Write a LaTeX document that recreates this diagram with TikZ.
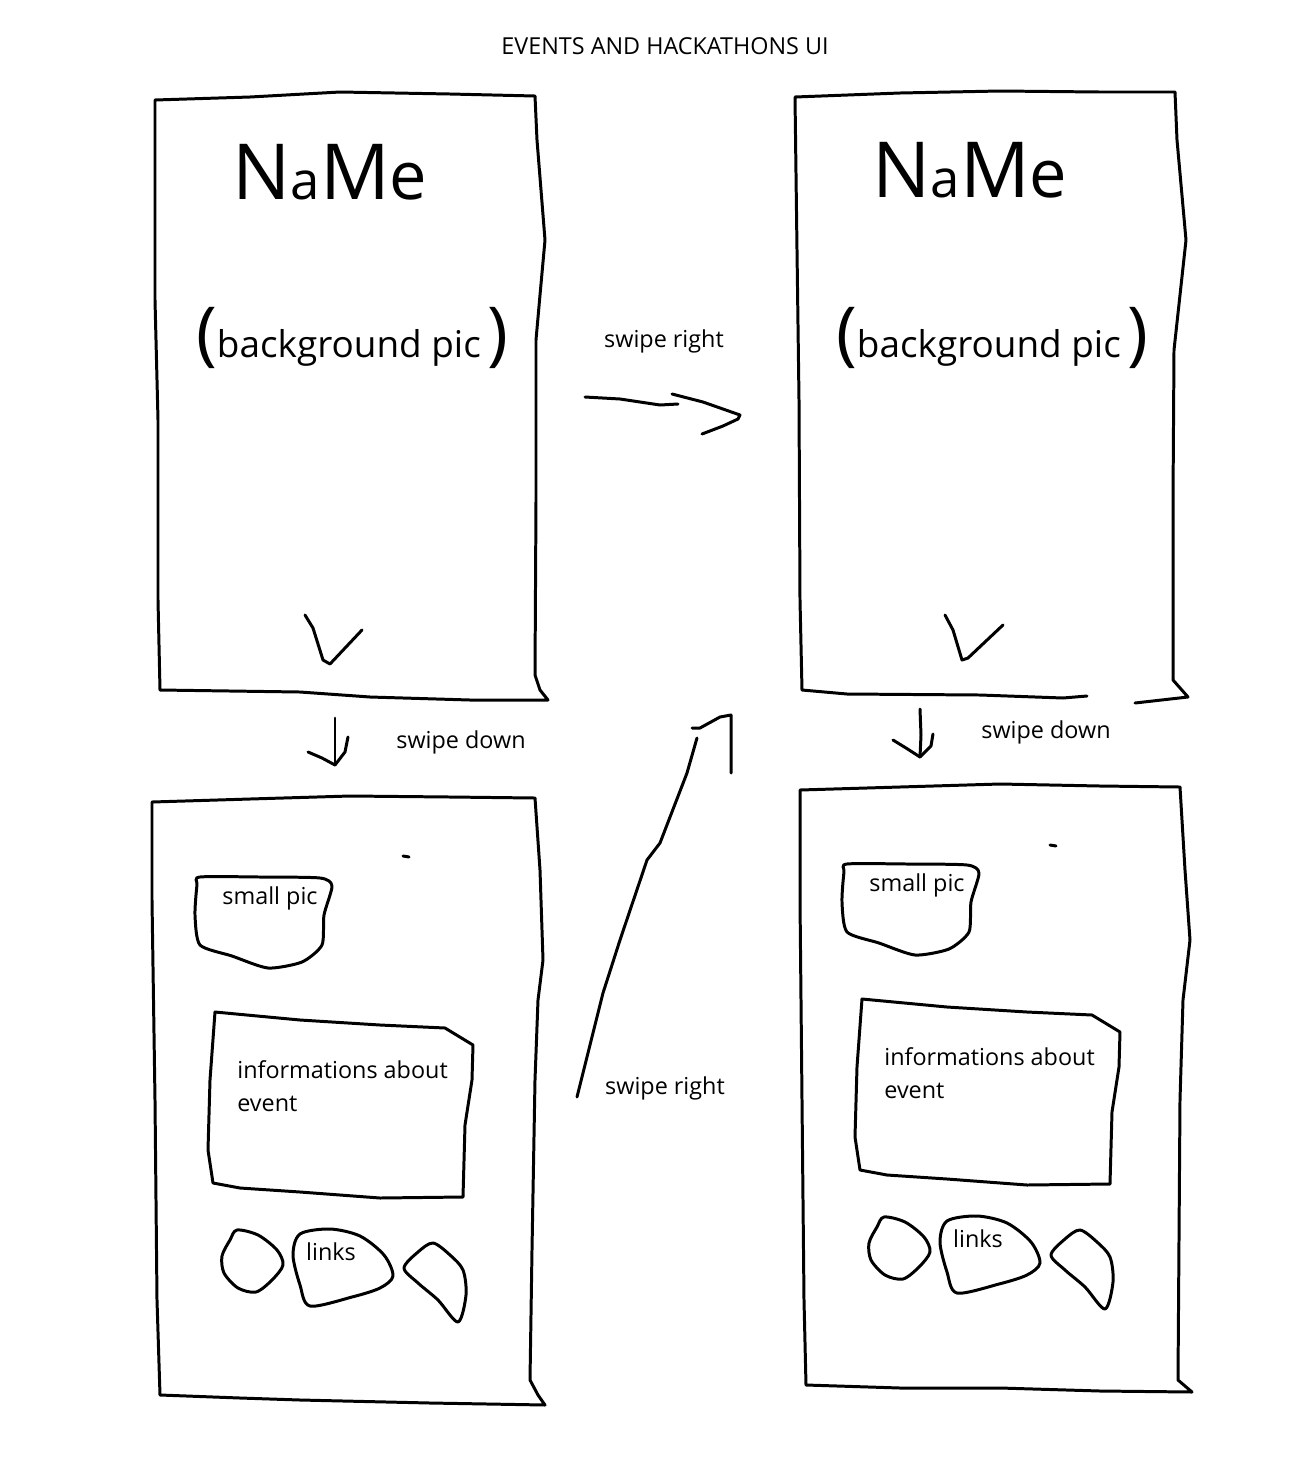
\documentclass[tikz,border=0pt]{standalone}
\usepackage{fontspec}
\setmainfont{Open Sans}
\usepackage{tikz}

\tikzset{
  sketch/.style={line width=1.7pt, line cap=round, line join=round},
  uitext/.style={font=\fontsize{13.3}{18.7}\selectfont, inner sep=0pt},
  hand/.style={inner sep=0pt}
}

\begin{document}
\begin{tikzpicture}[x=0.02cm, y=-0.02cm]
    \useasboundingbox (0,0) rectangle (1304,1468);

    \node[uitext] (title) at (665,46) {EVENTS AND HACKATHONS UI};

    % top left screen
    \draw[sketch] (155,100) -- (250,97) -- (340,92) -- (450,94) -- (535,96) -- (537,140)
        -- (545,240) -- (540,295) -- (536,340) -- (536,500) -- (535,675) -- (540,690)
        -- (548,700) -- (470,700) -- (370,697) -- (300,692) -- (160,690) -- (158,600)
        -- (158,420) -- (155,300) -- cycle;
    \node[hand] (nameA) at (330,172) {\fontsize{44}{44}\selectfont N{\fontsize{30}{30}\selectfont a}M{\fontsize{38}{38}\selectfont e}};
    \node[hand] (picA) at (352,338) {{\fontsize{40}{40}\selectfont(}\fontsize{21}{21}\selectfont background pic\,{\fontsize{40}{40}\selectfont)}};
    \draw[sketch] (305,615) -- (313,628) -- (323,660) -- (330,664) -- (362,630);

    % top right screen
    \draw[sketch] (1087,696) -- (1063,698) -- (980,695) -- (847,694) -- (802,690) -- (800,600)
        -- (799,400) -- (797,250) -- (795,97) -- (900,93) -- (1000,91) -- (1100,92)
        -- (1175,92) -- (1177,140) -- (1186,240) -- (1180,295) -- (1174,350) -- (1173,500)
        -- (1173,680) -- (1188,697) -- (1135,703);
    \node[hand] (nameB) at (970,170) {\fontsize{44}{44}\selectfont N{\fontsize{30}{30}\selectfont a}M{\fontsize{38}{38}\selectfont e}};
    \node[hand] (picB) at (992,338) {{\fontsize{40}{40}\selectfont(}\fontsize{21}{21}\selectfont background pic\,{\fontsize{40}{40}\selectfont)}};
    \draw[sketch] (945,615) -- (953,630) -- (962,660) -- (968,658) -- (1003,625);

    % bottom left screen
    \draw[sketch] (152,802) -- (250,799) -- (350,796) -- (450,797) -- (535,798) -- (540,870)
        -- (543,960) -- (538,1000) -- (535,1080) -- (532,1250) -- (530,1380) -- (538,1395)
        -- (545,1405) -- (430,1403) -- (300,1400) -- (240,1398) -- (160,1395) -- (157,1300)
        -- (155,1100) -- (152,900) -- cycle;
    \draw[sketch] (403,856) -- (409,857);
    \begin{scope}
        \draw[sketch] plot[smooth cycle, tension=0.4] coordinates {(200,877) (260,877) (320,878)
            (332,886) (324,915) (322,945) (302,962) (268,968) (232,956) (200,945) (195,915) (197,885)};
        \node[uitext] (smallC) at (270,898) {small pic};
        \draw[sketch] (215,1012) -- (300,1020) -- (380,1025) -- (445,1028) -- (473,1045)
            -- (472,1080) -- (465,1125) -- (463,1197) -- (380,1198) -- (300,1192)
            -- (240,1188) -- (213,1183) -- (208,1150) -- (210,1080) -- cycle;
        \node[uitext, align=left, anchor=west] (infoC) at (237,1086) {informations about\\event};
        \draw[sketch] plot[smooth cycle, tension=0.5] coordinates {(237,1230) (258,1235) (277,1250)
            (283,1265) (272,1280) (256,1292) (238,1288) (224,1273) (222,1256) (230,1240)};
        \draw[sketch] plot[smooth cycle, tension=0.5] coordinates {(300,1234) (330,1229) (360,1236)
            (384,1255) (393,1276) (380,1288) (352,1297) (310,1306) (300,1285) (293,1255)};
        \node[uitext] (linksC) at (331,1252) {links};
        \draw[sketch] plot[smooth cycle, tension=0.5] coordinates {(404,1268) (418,1252) (433,1243)
            (450,1255) (463,1270) (466,1295) (458,1322) (438,1300) (418,1283)};
    \end{scope}

    % bottom right screen
    \draw[sketch] (800,790) -- (900,787) -- (1000,784) -- (1100,786) -- (1180,787) -- (1185,870)
        -- (1190,940) -- (1183,1000) -- (1180,1100) -- (1178,1380) -- (1192,1392) -- (1100,1391)
        -- (1000,1388) -- (900,1388) -- (806,1385) -- (804,1300) -- (802,1100) -- (800,900) -- cycle;
    \draw[sketch] (1050,845) -- (1056,846);
    \begin{scope}[shift={(647,-13)}]
        \draw[sketch] plot[smooth cycle, tension=0.4] coordinates {(200,877) (260,877) (320,878)
            (332,886) (324,915) (322,945) (302,962) (268,968) (232,956) (200,945) (195,915) (197,885)};
        \node[uitext] (smallD) at (270,898) {small pic};
        \draw[sketch] (215,1012) -- (300,1020) -- (380,1025) -- (445,1028) -- (473,1045)
            -- (472,1080) -- (465,1125) -- (463,1197) -- (380,1198) -- (300,1192)
            -- (240,1188) -- (213,1183) -- (208,1150) -- (210,1080) -- cycle;
        \node[uitext, align=left, anchor=west] (infoD) at (237,1086) {informations about\\event};
        \draw[sketch] plot[smooth cycle, tension=0.5] coordinates {(237,1230) (258,1235) (277,1250)
            (283,1265) (272,1280) (256,1292) (238,1288) (224,1273) (222,1256) (230,1240)};
        \draw[sketch] plot[smooth cycle, tension=0.5] coordinates {(300,1234) (330,1229) (360,1236)
            (384,1255) (393,1276) (380,1288) (352,1297) (310,1306) (300,1285) (293,1255)};
        \node[uitext] (linksD) at (331,1252) {links};
        \draw[sketch] plot[smooth cycle, tension=0.5] coordinates {(404,1268) (418,1252) (433,1243)
            (450,1255) (463,1270) (466,1295) (458,1322) (438,1300) (418,1283)};
    \end{scope}

    % swipe arrows
    \coordinate (rightTopStart) at (585,397);
    \coordinate (rightTopTip) at (740,415);
    \draw[sketch] (rightTopStart) -- (620,399) -- (660,405) -- (678,404);
    \draw[sketch] (672,394) -- (703,402) -- (rightTopTip) -- (738,419) -- (723,426) -- (702,434);
    \node[uitext] (swipeRightTop) at (664,341) {swipe right};

    \coordinate (downAStart) at (335,718);
    \coordinate (downATip) at (335,765);
    \draw[sketch] (downAStart) -- (335,745) -- (downATip);
    \draw[sketch] (308,752) -- (322,758) -- (downATip) -- (345,752) -- (348,737);
    \node[uitext] (swipeDownA) at (461,742) {swipe down};

    \coordinate (downBStart) at (920,709);
    \coordinate (downBTip) at (920,757);
    \draw[sketch] (downBStart) -- (921,735) -- (downBTip);
    \draw[sketch] (893,740) -- (906,748) -- (downBTip) -- (931,746) -- (933,734);
    \node[uitext] (swipeDownB) at (1046,732) {swipe down};

    \coordinate (rightLowStart) at (577,1097);
    \coordinate (rightLowTip) at (731,715);
    \draw[sketch] (rightLowStart) -- (603,993) -- (620,940) -- (647,860) -- (660,843)
        -- (687,773) -- (697,738);
    \draw[sketch] (692,728) -- (700,728) -- (720,717) -- (rightLowTip) -- (731,773);
    \node[uitext] (swipeRightLow) at (665,1088) {swipe right};
\end{tikzpicture}
\end{document}
